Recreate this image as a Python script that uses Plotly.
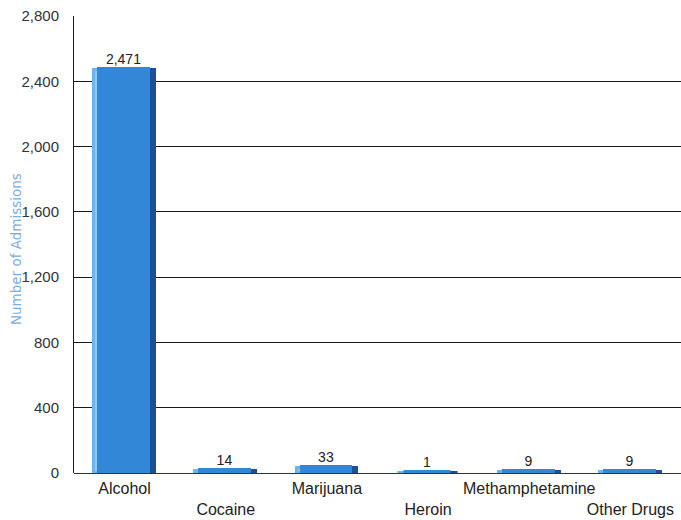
import plotly.graph_objects as go

categories = ["Alcohol", "Cocaine", "Marijuana", "Heroin", "Methamphetamine", "Other Drugs"]
admissions = [2471, 14, 33, 1, 9, 9]
y_ticks = [0, 400, 800, 1200, 1600, 2000, 2400, 2800]

# alternate category labels between two rows so the long names don't collide
tick_text = [c if i % 2 == 0 else "<br>" + c for i, c in enumerate(categories)]
value_text = [f"{v:,}" for v in admissions]

fig = go.Figure()

# light front edge of the bevelled bars
fig.add_trace(go.Bar(
    x=categories, y=admissions, width=0.58, offset=-0.3,
    marker=dict(color="#8ccaf0", line=dict(color="#6cb4ea", width=3)),
    hoverinfo="skip",
))
# dark right-hand side face
fig.add_trace(go.Bar(
    x=categories, y=admissions, width=0.53, offset=-0.23,
    marker=dict(color="#1d4f95", line=dict(color="#1d4f95", width=3)),
    hoverinfo="skip",
))
# main face with the value labels
fig.add_trace(go.Bar(
    x=categories, y=admissions, width=0.47, offset=-0.24,
    marker=dict(color="#3287d6", line=dict(color="#3287d6", width=5)),
    text=value_text, textposition="outside",
    textfont=dict(family="Liberation Sans, Arial, sans-serif", size=14, color="#222"),
    cliponaxis=False,
))

fig.update_layout(
    width=681, height=520,
    margin=dict(l=74, r=0, t=16, b=47),
    paper_bgcolor="white", plot_bgcolor="white",
    barmode="overlay", showlegend=False, bargap=0,
    font=dict(family="Liberation Sans, Arial, sans-serif", size=15, color="#222"),
    xaxis=dict(
        tickmode="array", tickvals=categories, ticktext=tick_text,
        showgrid=False, showline=False, ticks="", zeroline=False,
        tickangle=0, automargin=False, ticklabelstandoff=4,
        tickfont=dict(size=16, color="#222"),
    ),
    yaxis=dict(
        range=[0, 2800], tickvals=y_ticks, tickformat=",d",
        showgrid=True, gridcolor="#1a1a1a", gridwidth=1,
        showline=True, linecolor="#1a1a1a", linewidth=1,
        zeroline=True, zerolinecolor="#2a3a2a", zerolinewidth=1,
        ticks="", ticklabelstandoff=11, automargin=False,
        tickfont=dict(size=15, color="#333"),
    ),
    annotations=[dict(
        text="Number of Admissions", textangle=-90,
        xref="paper", yref="paper", x=-0.0955, y=0.49,
        xanchor="center", yanchor="middle", showarrow=False,
        font=dict(family="DejaVu Sans, sans-serif", size=13.5, color="#7aaee0"),
    )],
)

fig.write_html("out.html")
